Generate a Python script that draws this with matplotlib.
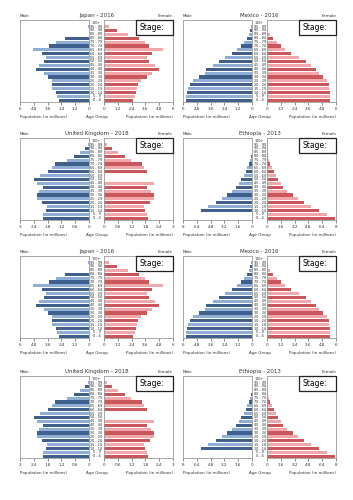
import numpy as np
import matplotlib.pyplot as plt
from matplotlib.patches import Rectangle

nan = np.nan

ageGroups = ["0 - 4", "5 - 9", "10 - 14", "15 - 19", "20 - 24", "25 - 29", "30 - 34",
             "35 - 39", "40 - 44", "45 - 49", "50 - 54", "55 - 59", "60 - 64", "65 - 69",
             "70 - 74", "75 - 79", "80 - 84", "85 - 89", "90 - 94", "95 - 99", "100+"]

# population in millions, youngest first; nan = bar left blank on the worksheet
japanMale = [2.6, 2.8, 2.9, 3.2, 3.2, 3.2, 3.55, 3.9, 4.6, 4.35, 3.9, 3.75, 4.1, 4.9,
             3.5, 2.9, 2.05, nan, nan, 0.1, nan]
japanFemale = [2.55, 2.7, 2.75, 2.9, 2.95, 3.25, 3.7, 4.15, 4.8, 4.45, 3.9, 3.7, 4.15, 5.15,
               3.95, 3.55, 3.0, 2.1, 1.15, 0.4, nan]
mexicoMale = [5.75, 5.7, 5.65, 5.6, 5.4, 5.1, 4.6, 4.1, 4.0, 3.4, 2.9, 2.35, 1.7, 1.3,
              1.0, 0.7, 0.45, 0.3, 0.15, 0.05, nan]
mexicoFemale = [5.5, 5.45, 5.45, 5.4, 5.35, 5.2, 4.85, 4.55, 4.3, 3.8, 3.4, 2.8, 2.1, 1.55,
                1.25, 0.9, 0.55, 0.3, 0.12, nan, nan]
ukMale = [1.99, 1.99, 1.89, 1.82, 2.06, 2.28, 2.27, 2.16, 2.0, 2.28, 2.38, 2.14, 1.8, 1.59,
          1.49, 0.97, 0.66, 0.37, 0.16, 0.06, 0.01]
ukFemale = [1.9, 1.89, 1.8, 1.73, 1.98, 2.18, 2.16, 2.05, 1.89, 2.19, nan, nan, 1.86, 1.73,
            1.66, 1.17, 0.9, 0.62, 0.33, 0.13, nan]
ethiopiaMale = [nan, nan, 5.95, 5.05, 4.2, 3.5, 2.9, 2.3, 1.9, 1.5, 1.25, 0.95, 0.75, 0.55,
                0.35, 0.2, 0.1, 0.03, nan, nan, nan]
ethiopiaFemale = [7.9, 6.9, 6.05, 5.1, 4.3, 3.55, 3.0, 2.3, 1.9, 1.6, 1.3, 1.05, 0.8, 0.6,
                  0.4, 0.25, 0.15, 0.07, 0.03, nan, nan]

W, H = 353, 500
fig = plt.figure(figsize=(W / 100, H / 100), dpi=100)

maleDark, maleLight = "#3f5f8c", "#8eaed6"
femDark, femLight = "#c9575c", "#f2a7ab"
spineCol = "#9a9a9a"


def px_rect(x0, top, w, h):
    return [x0 / W, 1 - (top + h) / H, w / W, h / H]


def style_axis(ax, ticks):
    ax.set_ylim(-0.45, 20.7)
    ax.set_yticks([])
    ax.set_xticks(ticks)
    ax.set_xticklabels([f"{t:g}" for t in ticks])
    ax.tick_params(axis="x", labelsize=3, length=2, width=0.4, pad=1.5, colors="#333333")
    for s in ax.spines.values():
        s.set_color(spineCol)
        s.set_linewidth(0.6)


def pyramid(x0, top, title, male, female, xmax):
    boxW, boxH, gap = 69, 82, 15
    y = np.arange(len(ageGroups))
    ticks = np.linspace(0, xmax, 6)

    axM = fig.add_axes(px_rect(x0, top, boxW, boxH))
    colsM = [maleDark if i % 2 == 0 else maleLight for i in y]
    axM.barh(y, male, height=0.8, color=colsM)
    axM.set_xlim(xmax, 0)
    style_axis(axM, ticks)

    axF = fig.add_axes(px_rect(x0 + boxW + gap, top, boxW, boxH))
    colsF = [femDark if i % 2 == 0 else femLight for i in y]
    axF.barh(y, female, height=0.8, color=colsF)
    axF.set_xlim(0, xmax)
    style_axis(axF, ticks)

    # age labels in the middle column
    cx = 1 + (gap / 2) / boxW
    for i, lab in enumerate(ageGroups):
        axM.text(cx, i, lab, transform=axM.get_yaxis_transform(),
                 ha="center", va="center", fontsize=2.4, color="#222222")

    axM.text(cx, 1.03, title, transform=axM.transAxes, ha="center", va="bottom",
             fontsize=4, color="#333333")
    axM.text(0, 1.03, "Male", transform=axM.transAxes, ha="left", va="bottom",
             fontsize=3, color="#333333")
    axF.text(1, 1.03, "Female", transform=axF.transAxes, ha="right", va="bottom",
             fontsize=3, color="#333333")
    axM.text(0, -0.16, "Population (in millions)", transform=axM.transAxes, ha="left",
             va="top", fontsize=3, color="#333333")
    axF.text(1, -0.16, "Population (in millions)", transform=axF.transAxes, ha="right",
             va="top", fontsize=3, color="#333333")
    axM.text(cx, -0.16, "Age Group", transform=axM.transAxes, ha="center", va="top",
             fontsize=3, color="#333333")

    # blank answer box
    axF.add_patch(Rectangle((0.46, 0.815), 0.54, 0.185, transform=axF.transAxes,
                            facecolor="white", edgecolor="#222222", linewidth=0.9,
                            zorder=5, clip_on=False))
    axF.text(0.51, 0.905, "Stage:", transform=axF.transAxes, ha="left", va="center",
             fontsize=5.5, color="black", zorder=6)


rowsTop = [20, 138, 256, 376]
pyramid(20, rowsTop[0], "Japan - 2016", japanMale, japanFemale, 6)
pyramid(183, rowsTop[0], "Mexico - 2016", mexicoMale, mexicoFemale, 6)
pyramid(20, rowsTop[1], "United Kingdom - 2018", ukMale, ukFemale, 3)
pyramid(183, rowsTop[1], "Ethiopia - 2013", ethiopiaMale, ethiopiaFemale, 8)
pyramid(20, rowsTop[2], "Japan - 2016", japanMale, japanFemale, 6)
pyramid(183, rowsTop[2], "Mexico - 2016", mexicoMale, mexicoFemale, 6)
pyramid(20, rowsTop[3], "United Kingdom - 2018", ukMale, ukFemale, 3)
pyramid(183, rowsTop[3], "Ethiopia - 2013", ethiopiaMale, ethiopiaFemale, 8)

fig.savefig("out.png", dpi=100)
